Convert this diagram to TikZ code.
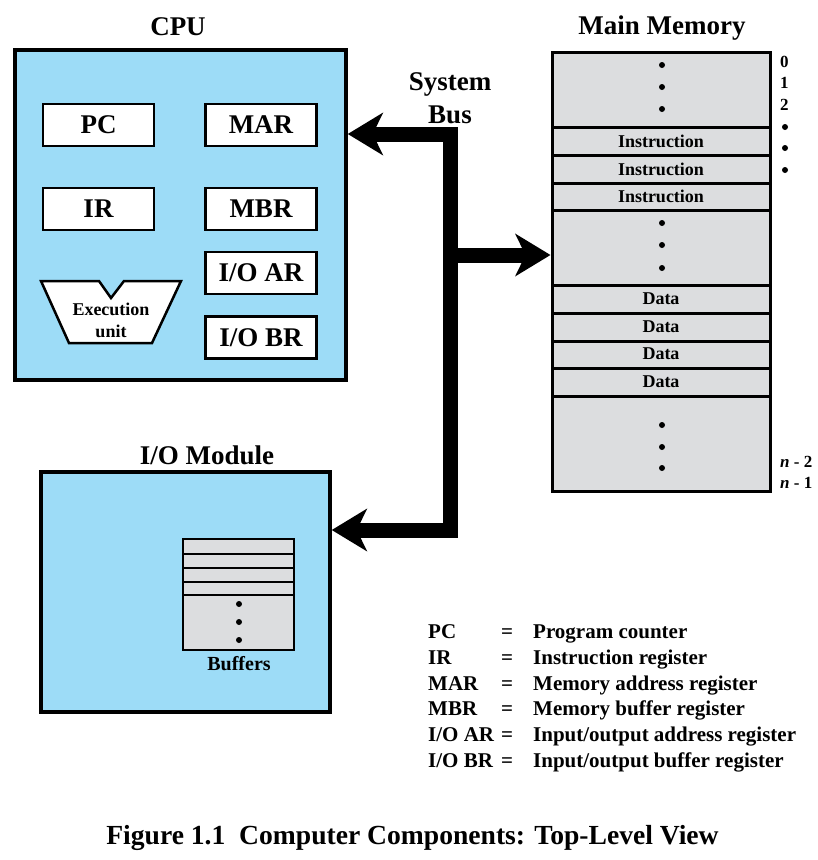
\documentclass[tikz,border=0pt]{standalone}
\usepackage{fontspec}
\setmainfont{Liberation Serif}
\usetikzlibrary{arrows.meta,positioning,calc}
\definecolor{cpublue}{RGB}{157,220,247}
\definecolor{memgray}{RGB}{220,221,223}
\newcommand{\boldsz}[1]{\fontsize{#1}{#1}\selectfont\bfseries}

\begin{document}
\begin{tikzpicture}[x=1pt,y=-1pt,
  unit/.style={draw, line width=3.5pt, fill=cpublue, inner sep=0pt},
  reg/.style={draw, line width=2.5pt, fill=white, minimum width=111pt, minimum height=42pt, inner sep=0pt, font=\boldsz{27}},
  title/.style={font=\boldsz{27}},
  cell/.style={font=\boldsz{18}},
  addr/.style={font=\boldsz{17}, anchor=west, inner sep=0pt},
  leg/.style={font=\boldsz{21}, text height=15pt, text depth=5pt, inner sep=0pt},
  bus/.style={line width=15pt, line join=miter},
  >={Stealth[length=35pt,width=42pt,inset=10pt]},
  ]
\useasboundingbox (0,0) rectangle (818,860);

% CPU
\node[unit, minimum width=331pt, minimum height=330pt] (cpu) at (180.5,215) {};
\node[title] (cputitle) at (178,27) {CPU};
\node[reg] (pc) at (98.5,125) {PC};
\node[reg] (mar) at (261,125) {MAR};
\node[reg] (ir) at (98.5,209) {IR};
\node[reg] (mbr) at (261,209) {MBR};
\node[reg] (ioar) at (261,273) {I/O AR};
\node[reg] (iobr) at (261,337.5) {I/O BR};
\draw[line width=2.5pt, fill=white, line join=miter]
  (41,281) -- (99,281) -- (111,298) -- (124,281) -- (181,281) -- (152,343) -- (69,343) -- cycle;
\node[font=\fontsize{18}{22}\selectfont\bfseries, align=center] (exu) at (111,320) {Execution\\unit};

% main memory
\node[draw, line width=3pt, fill=memgray, minimum width=218pt, minimum height=439pt, inner sep=0pt] (mem) at (661,271.5) {};
\node[title] (memtitle) at (662,28) {Main Memory};
\foreach \y in {127,155,183,210,285,313,341,368,396}
  \draw[line width=3pt] (553,\y) -- (769,\y);
\foreach \y in {141,169,196}
  \node[cell] (ins\y) at (661,\y) {Instruction};
\foreach \y in {299,327,354,382}
  \node[cell] (dat\y) at (661,\y) {Data};
\foreach \y in {65,87,109,223,245,268,425,447,468}
  \fill (662,\y) circle (3pt);
\foreach \y/\t in {62/0,83/1,105/2}
  \node[addr] (adr\t) at (780,\y) {\t};
\foreach \y in {127,148,170}
  \fill (785,\y) circle (3pt);
\node[addr] (adrn2) at (780,462) {\textit{n} - 2};
\node[addr] (adrn1) at (780,483) {\textit{n} - 1};

% I/O module
\node[unit, minimum width=289pt, minimum height=240pt] (io) at (185.5,592) {};
\node[title] (iotitle) at (207,455) {I/O Module};
\node[draw, line width=2.5pt, fill=memgray, minimum width=111pt, minimum height=111pt, inner sep=0pt] (buf) at (238.5,594.5) {};
\foreach \y in {554,568,582,595}
  \draw[line width=2.5pt] (183,\y) -- (294,\y);
\foreach \y in {604,622,640}
  \fill (239,\y) circle (3pt);
\node[font=\boldsz{20}] (buflabel) at (239,664) {Buffers};

% system bus
\coordinate (busT) at (450,134);
\coordinate (busM) at (450,255);
\coordinate (busB) at (450,530);
\draw[bus,<->] (cpu.east |- busT) -- (busT) -- (busB) -- (io.east |- busB);
\draw[bus,->] (busM) -- (mem.west |- busM);
\node[font=\fontsize{27}{33}\selectfont\bfseries, align=center] (sysbus) at (450,98) {System\\Bus};

% legend
\foreach \y/\a/\b [count=\i] in {633/PC/Program counter, 659/IR/Instruction register,
    685/MAR/Memory address register, 710/MBR/Memory buffer register,
    736/{I/O AR}/{Input/output address register}, 762/{I/O BR}/{Input/output buffer register}}
{
  \node[leg, anchor=west] (abbr\i) at (428,\y) {\a};
  \node[leg] (eq\i) at (507,\y) {=};
  \node[leg, anchor=west] (desc\i) at (533,\y) {\b};
}

\node[font=\boldsz{27.6}] (caption) at (412.5,838) {Figure 1.1\enspace Computer Components: Top-Level View};
\end{tikzpicture}
\end{document}
